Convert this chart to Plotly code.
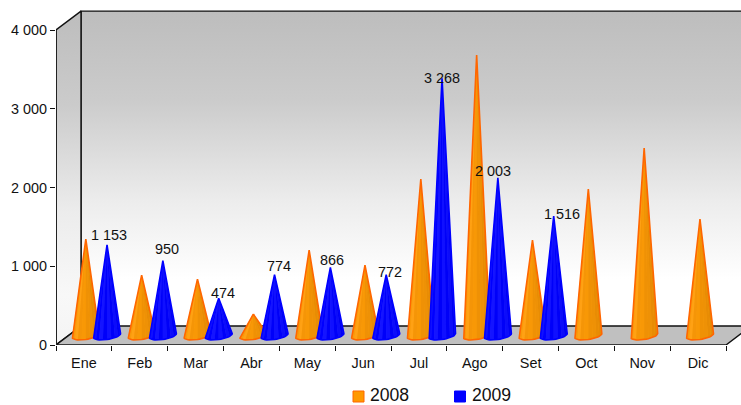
import math
import plotly.graph_objects as go

months = ["Ene", "Feb", "Mar", "Abr", "May", "Jun", "Jul", "Ago", "Set", "Oct", "Nov", "Dic"]
values_2008 = [1225, 768, 717, 273, 1085, 895, 1987, 3562, 1212, 1860, 2380, 1480]
values_2009 = [1153, 950, 474, 774, 866, 772, 3268, 2003, 1516, None, None, None]
y_ticks = [0, 1000, 2000, 3000, 4000]
y_tick_text = ["0", "1 000", "2 000", "3 000", "4 000"]
label_text = ["1 153", "950", "474", "774", "866", "772", "3 268", "2 003", "1 516"]
label_shift_x = [2, 4, 4, 4, 2, 4, 0, -5, 8]
label_shift_y = [10, 12, 5, 9, 7, 3, 0, 7, 2]

DX, DY = 0.448, 240
MID_X, MID_Y = 0.224, 120
OFF, RX, RY, SHEAR = 0.19, 0.242, 50, 25
N = 10
FS_TICK, FS_LEG = 14.4, 17.6
orange_base, blue_base = "#fba010", "#2a2aff"
orange_shades = ["#ff9d0c", "#f99a0a", "#ffa114", "#f59507", "#f89806", "#ef9105", "#ee9106", "#e88c04", "#e58a04", "#e18803"]
blue_shades = ["#0000ff", "#1010ff", "#0000ff", "#1414ff", "#0000fa", "#1010ff", "#0000f8", "#0c0cfa", "#0000f4", "#0000f0"]
ORANGE_LINE, BLUE_LINE = "#ff6600", "#0000ff"
PLOT_L, PLOT_T, PLOT_W, PLOT_H = 56, 10, 685, 335
X_MAX, Y_MAX = PLOT_W / (670 / 12), PLOT_H / (315 / 4000)

fig = go.Figure()

def poly(xs, ys, **kw):
    fig.add_trace(go.Scatter(x=xs, y=ys, mode="lines", fill="toself", cliponaxis=False,
                             hoverinfo="skip", showlegend=False, **kw))

wall_grad = dict(type="vertical", start=DY + 4000, stop=DY,
                 colorscale=[[0, "#bdbdbd"], [0.28, "#cbcbcb"], [0.6, "#ececec"], [0.85, "#ffffff"], [1, "#ffffff"]])
side_grad = dict(type="vertical", start=DY + 4000, stop=0,
                 colorscale=[[0, "#bdbdbd"], [0.28, "#cbcbcb"], [0.6, "#ececec"], [0.85, "#f8f8f8"], [1, "#f4f4f4"]])
frame = dict(color="#111111", width=1.4)
poly([DX, 12 + DX, 12 + DX, DX, DX], [DY, DY, DY + 4000, DY + 4000, DY], line=frame, fillgradient=wall_grad)
poly([0, DX, DX, 0, 0], [0, DY, DY + 4000, 4000, 0], line=frame, fillgradient=side_grad)
poly([0, DX, 12 + DX, 12, 0], [0, DY, DY, 0, 0], line=frame, fillcolor="#c0c0c0")
fig.add_trace(go.Scatter(x=[0, 0], y=[0, 4000], mode="lines", cliponaxis=False, hoverinfo="skip", showlegend=False,
                         line=dict(color="#222222", width=2)))

def rim(cx, t):
    a = math.radians(t)
    return cx + RX * math.cos(a), MID_Y + RY * math.sin(a) + SHEAR * math.cos(a)

def cones(name, values, side, base, shades, edge):
    xs, ys = [], []
    for i, v in enumerate(values):
        if v is None:
            continue
        cx = i + 0.5 + MID_X + side * OFF
        xs.append(cx); ys.append(v + MID_Y)
        for k in range(N * 2 + 1):
            p = rim(cx, 180 + 180 * k / (N * 2))
            xs.append(p[0]); ys.append(p[1])
        xs += [cx, None]; ys += [v + MID_Y, None]
    sx, sy = list(xs), list(ys)
    poly(sx, sy, line=dict(width=0), fillcolor=base)
    for k in range(N):
        fx, fy = [], []
        for i, v in enumerate(values):
            if v is None:
                continue
            cx = i + 0.5 + MID_X + side * OFF
            p0 = rim(cx, 180 + 180 * k / N)
            p1 = rim(cx, 180 + 180 * (k + 1) / N)
            fx += [cx, p0[0], p1[0], cx, None]
            fy += [v + MID_Y, p0[1], p1[1], v + MID_Y, None]
        poly(fx, fy, line=dict(width=0), fillcolor=shades[k])
    fig.add_trace(go.Scatter(x=sx, y=sy, mode="lines", name=name, cliponaxis=False, hoverinfo="skip", showlegend=False,
                             line=dict(color=edge, width=1.6)))

cones("2008", values_2008, -1, orange_base, orange_shades, ORANGE_LINE)
cones("2009", values_2009, 1, blue_base, blue_shades, BLUE_LINE)

labelled = [(i, v) for i, v in enumerate(values_2009) if v is not None]
for (i, v), t, sx, sy in zip(labelled, label_text, label_shift_x, label_shift_y):
    fig.add_annotation(x=i + 0.5 + MID_X + OFF, y=v + MID_Y, text=t, showarrow=False, xanchor="center", yanchor="middle",
                       xshift=sx, yshift=sy, font=dict(size=FS_TICK, color="#111111"))

def px_x(p):
    return (p - PLOT_L) / PLOT_W

def px_y(p):
    return 1 - (p - PLOT_T) / PLOT_H

for name, fc, lc, left in [("2008", "#ff9900", ORANGE_LINE, 353), ("2009", "#0000ff", BLUE_LINE, 454.5)]:
    fig.add_shape(type="rect", xref="paper", yref="paper", x0=px_x(left), x1=px_x(left + 11), y0=px_y(402), y1=px_y(391),
                  fillcolor=fc, line=dict(color=lc, width=1))
    fig.add_annotation(xref="paper", yref="paper", x=px_x(left + 16), y=px_y(394.5), text=name, showarrow=False,
                       xanchor="left", yanchor="middle", borderpad=0, font=dict(size=FS_LEG, color="#111111"))

fig.update_layout(
    width=741, height=405, margin=dict(l=PLOT_L, r=0, t=PLOT_T, b=60, pad=0),
    paper_bgcolor="white", plot_bgcolor="rgba(0,0,0,0)", showlegend=False,
    font=dict(family="Liberation Sans, Arial, sans-serif"),
    xaxis=dict(range=[0, X_MAX], tickmode="array", tickvals=[i + 0.5 for i in range(12)], ticktext=months,
               showgrid=False, zeroline=False, showline=False, ticks="",
               tickfont=dict(size=FS_TICK, color="#111111"), ticklabelstandoff=8,
               minor=dict(tickmode="array", tickvals=list(range(13)), ticks="outside", ticklen=5, tickcolor="#111111", tickwidth=1, showgrid=False)),
    yaxis=dict(range=[0, Y_MAX], tickmode="array", tickvals=y_ticks, ticktext=y_tick_text, showgrid=False, zeroline=False,
               showline=False, tickcolor="#111111", ticks="outside", ticklen=5, tickwidth=1, tickfont=dict(size=FS_TICK, color="#111111")),
)
fig.write_html("out.html", post_script="document.body.style.margin='0';", config={"displayModeBar": False})
